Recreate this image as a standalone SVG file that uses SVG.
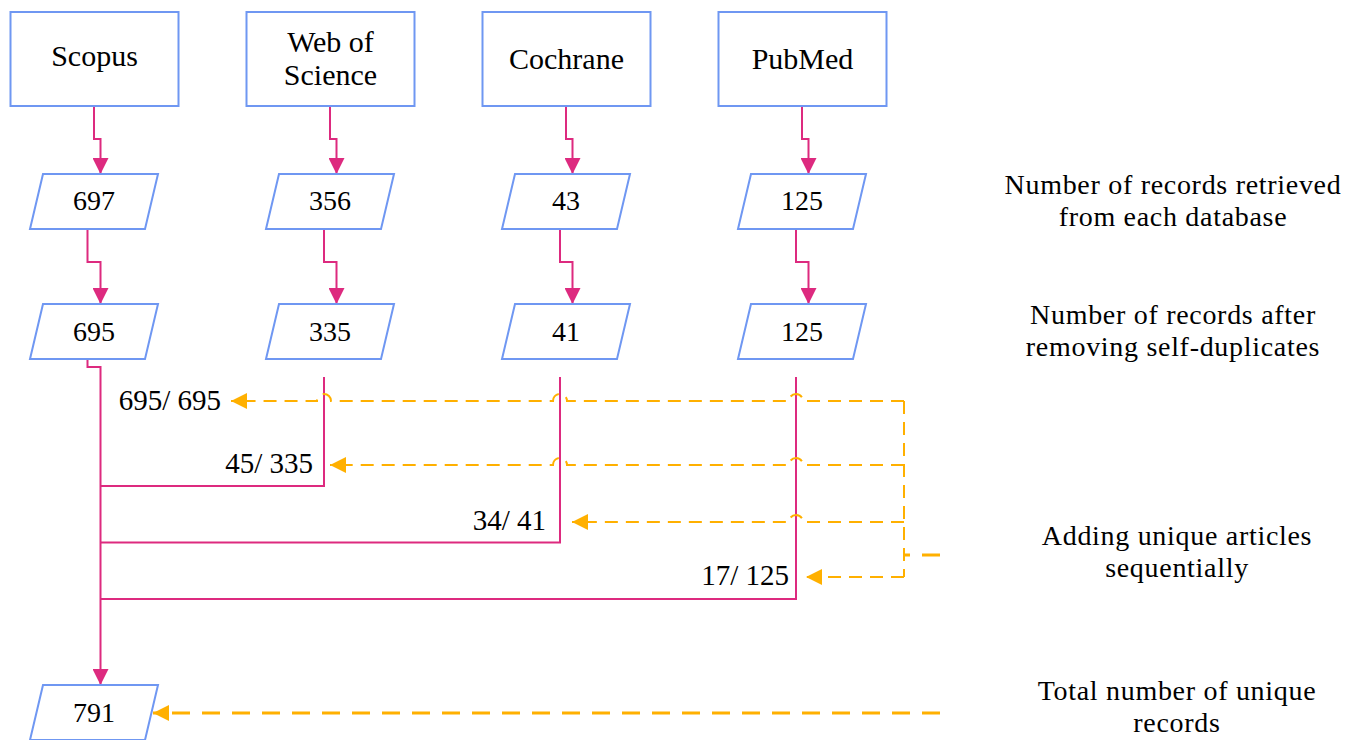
<svg xmlns="http://www.w3.org/2000/svg" width="1371" height="740" viewBox="0 0 1371 740">
<style>
.box{fill:#fff;stroke:#6F97F2;stroke-width:2}
.t{font-family:"Liberation Serif",serif;fill:#000;text-anchor:middle}
.w{font-size:30px}
.n{font-size:28px}
.lbl{font-family:"Liberation Serif",serif;font-size:29px;fill:#000;text-anchor:end}
.side{font-family:"Liberation Serif",serif;font-size:28px;letter-spacing:0.7px;fill:#000;text-anchor:middle}
.pk{fill:none;stroke:#DD2A7F;stroke-width:2}
.pka{fill:none;stroke:#DD2A7F;stroke-width:2;marker-end:url(#ap)}
.og{fill:none;stroke:#FFB000;stroke-width:2;stroke-dasharray:13 8}
.oga{fill:none;stroke:#FFB000;stroke-width:2;stroke-dasharray:13 8;marker-end:url(#ao)}
.ogb{fill:none;stroke:#FFB000;stroke-width:3;stroke-dasharray:18 12}
</style>
<defs>
<marker id="ap" viewBox="0 0 16 16" refX="16" refY="8" markerWidth="16" markerHeight="16" markerUnits="userSpaceOnUse" orient="auto">
<path d="M0,0 L16,8 L0,16 z" fill="#DD2A7F"/>
</marker>
<marker id="ao" viewBox="0 0 16 16" refX="16" refY="8" markerWidth="16" markerHeight="16" markerUnits="userSpaceOnUse" orient="auto">
<path d="M0,0 L16,8 L0,16 z" fill="#FFB000"/>
</marker>
</defs>
<rect width="1371" height="740" fill="#fff"/>

<g id="connectors">
<path class="pka" d="M94,106 V139 H100.5 V174"/>
<path class="pka" d="M330,106 V139 H336.5 V174"/>
<path class="pka" d="M566,106 V139 H572.5 V174"/>
<path class="pka" d="M802,106 V139 H808.5 V174"/>
<path class="pka" d="M87.5,229 V262 H100.5 V304"/>
<path class="pka" d="M324,229 V262 H336.5 V304"/>
<path class="pka" d="M560,229 V262 H572.5 V304"/>
<path class="pka" d="M796,229 V262 H808.5 V304"/>
<path class="pka" d="M87.5,359 V367 H100.5 V685"/>
<path class="pk" d="M324,377 V486 H100.5"/>
<path class="pk" d="M560,377 V542.5 H100.5"/>
<path class="pk" d="M796,377 V599 H100.5"/>
<path class="oga" d="M904,401 H803 A7,7 0 0 0 789,401 H567 A7,7 0 0 0 553,401 H331 A7,7 0 0 0 317,401 H231"/>
<path class="oga" d="M904,465 H803 A7,7 0 0 0 789,465 H567 A7,7 0 0 0 553,465 H330"/>
<path class="oga" d="M904,522 H803 A7,7 0 0 0 789,522 H572"/>
<path class="oga" d="M904,577 H806"/>
<path class="og" d="M904,401 V577"/>
<path class="ogb" d="M940,555 H904"/>
<path class="ogb" d="M940,713 H153" marker-end="url(#ao)"/>
</g>

<g id="scopus"><rect class="box" x="10.5" y="12" width="168" height="94"/><text class="t w" x="94.5" y="66">Scopus</text></g>
<g id="wos"><rect class="box" x="246.5" y="12" width="168" height="94"/><text class="t w" x="330.5" y="52">Web of</text><text class="t w" x="330.5" y="85">Science</text></g>
<g id="cochrane"><rect class="box" x="482.5" y="12" width="168" height="94"/><text class="t w" x="566.5" y="69">Cochrane</text></g>
<g id="pubmed"><rect class="box" x="718.5" y="12" width="168" height="94"/><text class="t w" x="802.5" y="69">PubMed</text></g>

<g id="r697"><polygon class="box" points="43,174 158,174 145,229 30,229"/><text class="t n" x="94" y="210">697</text></g>
<g id="r356"><polygon class="box" points="279,174 394,174 381,229 266,229"/><text class="t n" x="330" y="210">356</text></g>
<g id="r43"><polygon class="box" points="515,174 630,174 617,229 502,229"/><text class="t n" x="566" y="210">43</text></g>
<g id="r125a"><polygon class="box" points="751,174 866,174 853,229 738,229"/><text class="t n" x="802" y="210">125</text></g>

<g id="r695"><polygon class="box" points="43,304 158,304 145,359 30,359"/><text class="t n" x="94" y="341">695</text></g>
<g id="r335"><polygon class="box" points="279,304 394,304 381,359 266,359"/><text class="t n" x="330" y="341">335</text></g>
<g id="r41"><polygon class="box" points="515,304 630,304 617,359 502,359"/><text class="t n" x="566" y="341">41</text></g>
<g id="r125b"><polygon class="box" points="751,304 866,304 853,359 738,359"/><text class="t n" x="802" y="341">125</text></g>

<g id="r791"><polygon class="box" points="43,685 158,685 145,740 30,740"/><text class="t n" x="94" y="722">791</text></g>

<g id="labels">
<text class="lbl" x="221" y="410">695/ 695</text>
<text class="lbl" x="313" y="473">45/ 335</text>
<text class="lbl" x="546" y="530">34/ 41</text>
<text class="lbl" x="789" y="585">17/ 125</text>
</g>

<g id="side-notes">
<text class="side" x="1173" y="194">Number of records retrieved</text>
<text class="side" x="1173" y="226">from each database</text>
<text class="side" x="1173" y="324">Number of records after</text>
<text class="side" x="1173" y="356">removing self-duplicates</text>
<text class="side" x="1177" y="545">Adding unique articles</text>
<text class="side" x="1177" y="577">sequentially</text>
<text class="side" x="1177" y="700">Total number of unique</text>
<text class="side" x="1177" y="732">records</text>
</g>
</svg>
